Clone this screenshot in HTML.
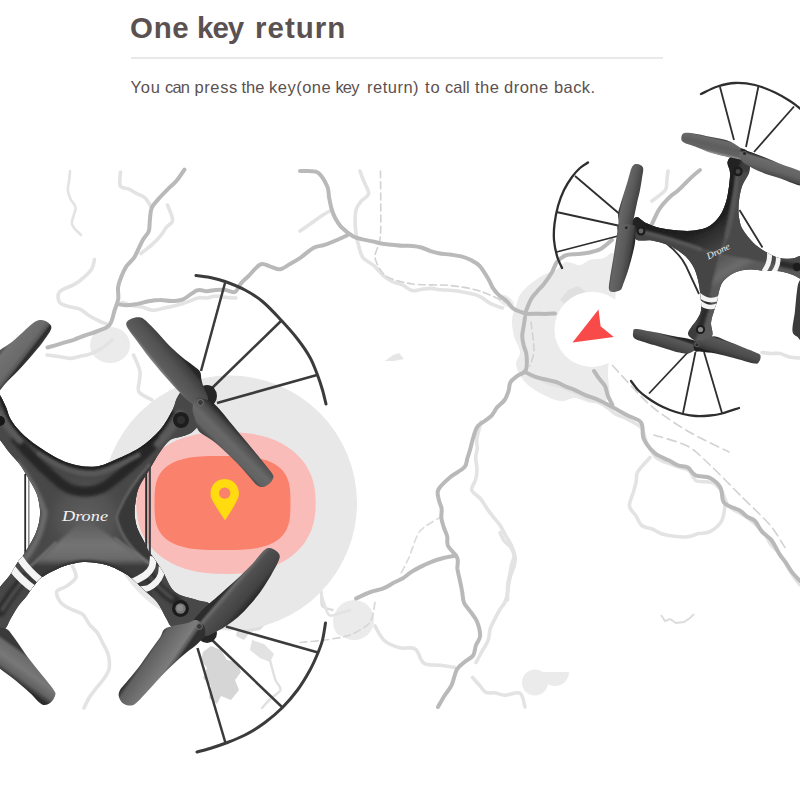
<!DOCTYPE html>
<html><head><meta charset="utf-8">
<style>
html,body{margin:0;padding:0;background:#fff;}
body{width:800px;height:800px;overflow:hidden;position:relative;font-family:"Liberation Sans",sans-serif;}
h1{position:absolute;left:0;top:10px;margin:0;font-size:29.5px;line-height:36px;font-weight:bold;color:#5b5150;white-space:nowrap;}
h1 span{position:absolute;top:0;}
.hr{position:absolute;left:131px;top:57px;width:532px;height:2px;background:#e9e9e9;}
p{position:absolute;left:0;top:76px;margin:0;font-size:16.5px;line-height:22px;color:#5b5150;white-space:nowrap;}
p span{position:absolute;top:0;}
svg{position:absolute;left:0;top:0;}
</style></head><body>
<svg id="art" width="800" height="800" viewBox="0 0 800 800">
<defs>

<clipPath id="d1clip"><path d="M-6.0,388.0 C-4.7,381.8 -2.0,391.8 0.0,395.0 C2.0,398.2 4.2,403.0 6.0,407.0 C7.8,411.0 8.0,414.8 10.5,419.0 C13.0,423.2 16.5,428.0 21.0,432.5 C25.5,437.0 31.0,441.5 37.5,446.0 C44.0,450.5 53.2,456.2 60.0,459.5 C66.8,462.8 72.0,464.3 78.0,465.5 C84.0,466.7 90.2,467.2 96.0,466.5 C101.8,465.8 105.2,464.2 112.5,461.0 C119.8,457.8 132.1,452.7 140.0,447.5 C147.9,442.3 154.6,436.2 160.0,430.0 C165.4,423.8 169.7,415.3 172.5,410.0 C175.3,404.7 175.2,401.2 177.0,398.0 C178.8,394.8 179.8,392.0 183.0,391.0 C186.2,390.0 192.2,390.2 196.0,392.0 C199.8,393.8 204.7,397.7 206.0,402.0 C207.3,406.3 205.4,413.8 204.0,418.0 C202.6,422.2 199.8,424.4 197.5,427.0 C195.2,429.6 192.9,431.8 190.0,433.5 C187.1,435.2 183.3,435.9 180.0,437.0 C176.7,438.1 173.3,437.5 170.0,440.0 C166.7,442.5 163.6,446.8 160.0,452.0 C156.4,457.2 152.0,465.1 148.5,471.0 C145.0,476.9 141.0,482.2 138.8,487.4 C136.6,492.6 136.2,497.4 135.5,502.0 C134.8,506.6 134.4,510.7 134.7,515.0 C135.0,519.3 135.7,523.7 137.2,528.0 C138.7,532.3 141.8,537.2 143.7,541.0 C145.6,544.8 146.9,548.2 148.5,551.0 C150.1,553.8 151.1,554.0 153.5,557.5 C155.9,561.0 159.4,566.2 163.0,572.0 C166.6,577.8 169.3,587.3 175.0,592.0 C180.7,596.7 191.2,598.0 197.0,600.0 C202.8,602.0 207.5,601.3 210.0,604.0 C212.5,606.7 213.7,612.3 212.0,616.0 C210.3,619.7 204.5,623.3 200.0,626.0 C195.5,628.7 189.7,631.8 185.0,632.0 C180.3,632.2 175.2,629.3 172.0,627.0 C168.8,624.7 168.5,622.2 166.0,618.0 C163.5,613.8 160.8,606.8 157.0,602.0 C153.2,597.2 147.2,592.9 143.0,589.0 C138.8,585.1 135.0,581.2 132.0,578.6 C129.0,576.0 128.5,575.4 125.0,573.4 C121.5,571.4 115.7,568.1 111.0,566.4 C106.3,564.6 101.7,563.6 97.0,562.9 C92.3,562.2 87.7,561.7 83.0,562.0 C78.3,562.3 73.7,563.3 69.0,564.6 C64.3,565.9 59.7,567.7 55.0,569.9 C50.3,572.1 44.3,575.4 41.0,577.8 C37.7,580.2 36.8,582.3 35.0,584.5 C33.2,586.7 31.5,588.9 30.0,591.0 C28.5,593.1 28.0,594.4 26.0,597.0 C24.0,599.6 20.6,602.8 18.0,606.5 C15.4,610.2 12.7,615.2 10.5,619.0 C8.3,622.8 7.8,626.0 5.0,629.0 C2.2,632.0 -3.8,641.8 -6.0,637.0 C-8.2,632.2 -9.0,608.3 -8.0,600.0 C-7.0,591.7 -3.0,591.2 0.0,587.0 C3.0,582.8 7.1,579.1 10.0,575.0 C12.9,570.9 15.0,566.2 17.5,562.5 C20.0,558.8 21.9,557.5 25.0,552.5 C28.1,547.5 33.5,538.8 36.0,532.5 C38.5,526.2 39.6,520.4 40.0,515.0 C40.4,509.6 39.3,504.2 38.5,500.0 C37.7,495.8 36.8,493.8 35.0,490.0 C33.2,486.2 30.6,481.8 28.0,477.5 C25.4,473.2 22.7,468.2 19.5,464.0 C16.3,459.8 12.2,456.0 9.0,452.0 C5.8,448.0 2.8,443.3 0.0,440.0 C-2.8,436.7 -7.0,440.7 -8.0,432.0 C-9.0,423.3 -7.3,394.2 -6.0,388.0Z"/></clipPath>
<filter id="b3" x="-20%" y="-20%" width="140%" height="140%"><feGaussianBlur stdDeviation="3"/></filter>
<filter id="b2" x="-20%" y="-20%" width="140%" height="140%"><feGaussianBlur stdDeviation="1.6"/></filter>
<filter id="b1" x="-20%" y="-20%" width="140%" height="140%"><feGaussianBlur stdDeviation="0.8"/></filter>

<linearGradient id="fB" gradientUnits="userSpaceOnUse" x1="85" y1="520" x2="85" y2="566"><stop offset="0" stop-color="#5a5a5a"/><stop offset="0.55" stop-color="#747474"/><stop offset="0.85" stop-color="#6a6a6a"/><stop offset="1" stop-color="#3a3a3a"/></linearGradient>
<radialGradient id="plate" gradientUnits="userSpaceOnUse" cx="86" cy="518" r="46"><stop offset="0" stop-color="#5e5e5e"/><stop offset="0.6" stop-color="#525252"/><stop offset="1" stop-color="#484848" stop-opacity="0"/></radialGradient>
<linearGradient id="g1u" gradientUnits="userSpaceOnUse" x1="150.0" y1="362.0" x2="172.0" y2="344.0"><stop offset="0" stop-color="#2b2b2b"/><stop offset="0.08" stop-color="#858585"/><stop offset="0.2" stop-color="#5e5e5e"/><stop offset="0.6" stop-color="#525252"/><stop offset="0.9" stop-color="#3e3e3e"/><stop offset="1" stop-color="#262626"/></linearGradient>
<linearGradient id="g1l" gradientUnits="userSpaceOnUse" x1="214.0" y1="444.0" x2="234.0" y2="424.0"><stop offset="0" stop-color="#444"/><stop offset="0.15" stop-color="#626262"/><stop offset="0.45" stop-color="#686868"/><stop offset="0.75" stop-color="#4e4e4e"/><stop offset="0.92" stop-color="#303030"/><stop offset="1" stop-color="#242424"/></linearGradient>
<linearGradient id="g3u" gradientUnits="userSpaceOnUse" x1="239.0" y1="575.0" x2="261.0" y2="594.0"><stop offset="0" stop-color="#2c2c2c"/><stop offset="0.1" stop-color="#6a6a6a"/><stop offset="0.25" stop-color="#505050"/><stop offset="0.7" stop-color="#434343"/><stop offset="1" stop-color="#222"/></linearGradient>
<linearGradient id="g3l" gradientUnits="userSpaceOnUse" x1="149.0" y1="650.0" x2="174.0" y2="667.0"><stop offset="0" stop-color="#363636"/><stop offset="0.12" stop-color="#606060"/><stop offset="0.5" stop-color="#707070"/><stop offset="0.8" stop-color="#7c7c7c"/><stop offset="0.93" stop-color="#555"/><stop offset="1" stop-color="#303030"/></linearGradient>
<linearGradient id="g2" gradientUnits="userSpaceOnUse" x1="16.0" y1="332.0" x2="38.0" y2="349.0"><stop offset="0" stop-color="#585858"/><stop offset="0.1" stop-color="#727272"/><stop offset="0.62" stop-color="#6a6a6a"/><stop offset="0.76" stop-color="#585858"/><stop offset="0.85" stop-color="#2d2d2d"/><stop offset="0.94" stop-color="#333"/><stop offset="1" stop-color="#484848"/></linearGradient>
<linearGradient id="g4" gradientUnits="userSpaceOnUse" x1="30.0" y1="656.0" x2="13.0" y2="680.0"><stop offset="0" stop-color="#3a3a3a"/><stop offset="0.12" stop-color="#6a6a6a"/><stop offset="0.5" stop-color="#787878"/><stop offset="0.8" stop-color="#626262"/><stop offset="1" stop-color="#2c2c2c"/></linearGradient>

<clipPath id="d2clip"><path d="M632.0,222.0 C633.0,219.5 634.7,216.8 637.0,217.0 C639.3,217.2 642.2,221.2 646.0,223.0 C649.8,224.8 654.7,226.8 660.0,228.0 C665.3,229.2 672.2,230.1 678.0,230.5 C683.8,230.9 689.2,231.2 694.5,230.5 C699.8,229.8 705.2,228.5 709.5,226.0 C713.8,223.5 717.2,219.5 720.0,215.5 C722.8,211.5 724.5,206.8 726.0,202.0 C727.5,197.2 728.3,191.4 729.0,186.5 C729.7,181.6 730.2,176.6 730.0,172.5 C729.8,168.4 727.0,164.8 727.5,162.0 C728.0,159.2 730.2,156.8 733.0,156.0 C735.8,155.2 741.2,155.7 744.0,157.0 C746.8,158.3 748.7,161.3 749.5,164.0 C750.3,166.7 750.2,169.5 749.0,173.0 C747.8,176.5 744.1,181.0 742.5,185.0 C740.9,189.0 740.2,192.8 739.5,197.0 C738.8,201.2 738.5,206.2 738.5,210.0 C738.5,213.8 738.8,216.8 739.5,220.0 C740.2,223.2 740.2,225.2 742.5,229.0 C744.8,232.8 749.2,238.8 753.0,242.5 C756.8,246.2 760.7,248.9 765.0,251.5 C769.3,254.1 774.5,256.8 779.0,258.0 C783.5,259.2 788.0,258.7 792.0,258.5 C796.0,258.3 801.2,253.8 803.0,257.0 C804.8,260.2 804.7,275.0 803.0,278.0 C801.3,281.0 796.7,276.1 793.0,275.0 C789.3,273.9 785.7,272.2 781.0,271.5 C776.3,270.8 770.2,271.3 765.0,271.0 C759.8,270.7 755.0,269.2 750.0,269.5 C745.0,269.8 739.5,270.5 735.0,272.5 C730.5,274.5 725.8,278.0 723.0,281.5 C720.2,285.0 719.4,290.4 718.5,293.5 C717.6,296.6 718.2,297.1 717.5,300.0 C716.8,302.9 715.1,307.2 714.0,311.0 C712.9,314.8 711.3,318.8 711.0,323.0 C710.7,327.2 713.8,332.8 712.0,336.0 C710.2,339.2 704.0,342.3 700.0,342.0 C696.0,341.7 688.5,337.8 688.0,334.0 C687.5,330.2 694.8,323.4 697.0,319.5 C699.2,315.6 700.4,314.4 701.0,310.5 C701.6,306.6 701.0,301.1 700.5,296.0 C700.0,290.9 699.1,284.7 698.0,280.0 C696.9,275.3 695.7,271.5 694.0,268.0 C692.3,264.5 690.3,261.7 688.0,259.0 C685.7,256.3 683.2,254.2 680.0,252.0 C676.8,249.8 673.7,247.4 669.0,245.5 C664.3,243.6 657.3,241.4 652.0,240.5 C646.7,239.6 640.5,241.4 637.0,240.0 C633.5,238.6 631.8,235.0 631.0,232.0 C630.2,229.0 631.0,224.5 632.0,222.0Z"/></clipPath>
<linearGradient id="hT" gradientUnits="userSpaceOnUse" x1="704" y1="228" x2="720" y2="255"><stop offset="0" stop-color="#242424"/><stop offset="0.4" stop-color="#333"/><stop offset="1" stop-color="#4a4a4a"/></linearGradient>
<linearGradient id="hB" gradientUnits="userSpaceOnUse" x1="720" y1="255" x2="733" y2="277"><stop offset="0" stop-color="#525252"/><stop offset="0.7" stop-color="#6c6c6c"/><stop offset="1" stop-color="#5a5a5a"/></linearGradient>
<linearGradient id="k1u" gradientUnits="userSpaceOnUse" x1="620.0" y1="204.0" x2="638.0" y2="208.0"><stop offset="0" stop-color="#2c2c2c"/><stop offset="0.12" stop-color="#686868"/><stop offset="0.5" stop-color="#5a5a5a"/><stop offset="0.85" stop-color="#444"/><stop offset="1" stop-color="#202020"/></linearGradient>
<linearGradient id="k1l" gradientUnits="userSpaceOnUse" x1="612.0" y1="256.0" x2="632.0" y2="259.0"><stop offset="0" stop-color="#303030"/><stop offset="0.15" stop-color="#666"/><stop offset="0.55" stop-color="#5a5a5a"/><stop offset="0.85" stop-color="#444"/><stop offset="1" stop-color="#222"/></linearGradient>
<linearGradient id="k2u" gradientUnits="userSpaceOnUse" x1="712.0" y1="136.0" x2="708.0" y2="153.0"><stop offset="0" stop-color="#262626"/><stop offset="0.15" stop-color="#6a6a6a"/><stop offset="0.5" stop-color="#5e5e5e"/><stop offset="0.8" stop-color="#646464"/><stop offset="0.92" stop-color="#8c8c8c"/><stop offset="1" stop-color="#2a2a2a"/></linearGradient>
<linearGradient id="k2l" gradientUnits="userSpaceOnUse" x1="772.0" y1="159.0" x2="767.0" y2="176.0"><stop offset="0" stop-color="#262626"/><stop offset="0.15" stop-color="#6c6c6c"/><stop offset="0.6" stop-color="#626262"/><stop offset="0.9" stop-color="#4a4a4a"/><stop offset="1" stop-color="#202020"/></linearGradient>
<linearGradient id="k3u" gradientUnits="userSpaceOnUse" x1="663.0" y1="333.0" x2="658.0" y2="348.0"><stop offset="0" stop-color="#262626"/><stop offset="0.15" stop-color="#5a5a5a"/><stop offset="0.6" stop-color="#4a4a4a"/><stop offset="0.88" stop-color="#3a3a3a"/><stop offset="1" stop-color="#1e1e1e"/></linearGradient>
<linearGradient id="k3l" gradientUnits="userSpaceOnUse" x1="734.0" y1="342.0" x2="729.0" y2="358.0"><stop offset="0" stop-color="#262626"/><stop offset="0.15" stop-color="#585858"/><stop offset="0.6" stop-color="#4c4c4c"/><stop offset="0.9" stop-color="#383838"/><stop offset="1" stop-color="#1e1e1e"/></linearGradient>

</defs>
<g id="map"><ellipse cx="110" cy="345" rx="20" ry="18" fill="#ebebeb"/>
<path d="M516.0,306.0 C517.7,301.3 518.0,296.8 522.0,292.0 C526.0,287.2 534.3,280.7 540.0,277.0 C545.7,273.3 551.7,272.5 556.0,270.0 C560.3,267.5 562.0,262.8 566.0,262.0 C570.0,261.2 576.0,265.3 580.0,265.0 C584.0,264.7 586.0,261.2 590.0,260.0 C594.0,258.8 600.2,259.2 604.0,258.0 C607.8,256.8 610.8,251.3 613.0,253.0 C615.2,254.7 616.5,261.8 617.0,268.0 C617.5,274.2 616.8,279.7 616.0,290.0 C615.2,300.3 613.3,316.3 612.0,330.0 C610.7,343.7 608.5,360.7 608.0,372.0 C607.5,383.3 611.7,392.8 609.0,398.0 C606.3,403.2 597.7,403.0 592.0,403.0 C586.3,403.0 580.3,398.3 575.0,398.0 C569.7,397.7 565.8,401.8 560.0,401.0 C554.2,400.2 546.0,396.3 540.0,393.0 C534.0,389.7 528.0,385.7 524.0,381.0 C520.0,376.3 516.7,369.8 516.0,365.0 C515.3,360.2 520.3,356.8 520.0,352.0 C519.7,347.2 515.3,341.3 514.0,336.0 C512.7,330.7 511.7,325.0 512.0,320.0 C512.3,315.0 514.3,310.7 516.0,306.0Z" fill="#ebebeb"/>
<ellipse cx="506" cy="301" rx="9" ry="5" fill="#ececec" transform="rotate(35 506 301)"/>
<path d="M560,300 l8,-10 l10,-4 l8,6 l-4,12 l-12,4z" fill="#e0e0e0"/>
<ellipse cx="354" cy="620" rx="20" ry="20" fill="#ebebeb"/><ellipse cx="342" cy="622" rx="9" ry="14" fill="#ebebeb"/>
<circle cx="535" cy="682.5" r="13" fill="#ebebeb"/><path d="M541,672 A14,14 0 0 0 569,672Z" fill="#ebebeb"/>
<path d="M203,652 l8,-6 l10,4 l6,10 l10,2 l4,10 l-6,8 l4,10 l-8,10 l-10,-4 l-4,8 l-8,-6 l2,-12 l-8,-8 l4,-10 l-6,-8z" fill="#d6d6d6"/>
<path d="M236,612 l10,-4 l8,6 l10,-2 l4,10 l-8,8 l-10,2 l-6,8 l-8,-4 l2,-10 l-6,-6z" fill="#dedede"/>
<path d="M252,640 l12,4 l10,10 l-4,8 l-10,-4 l-10,-8z" fill="#e2e2e2"/>
<path d="M70.0,171.0 C69.9,172.6 69.5,177.3 69.1,180.5 C68.8,183.7 67.6,186.8 67.8,190.0 C68.1,193.1 69.4,196.4 70.7,199.4 C72.0,202.4 75.4,203.9 75.6,208.0 C75.8,212.1 71.1,219.5 72.0,224.0 C72.9,228.5 79.5,233.2 81.0,235.0" fill="none" stroke="#e3e3e3" stroke-width="2.6" stroke-linejoin="round" stroke-linecap="round" />
<path d="M120.5,172.0 C120.5,174.3 118.9,183.2 120.3,186.0 C121.7,188.8 126.3,187.8 129.0,189.1 C131.8,190.4 134.2,192.2 136.8,193.7 C139.5,195.1 142.3,195.4 144.9,197.8 C147.4,200.2 150.8,206.3 152.0,208.0" fill="none" stroke="#e3e3e3" stroke-width="3.6" stroke-linejoin="round" stroke-linecap="round" />
<path d="M94.5,259.5 C94.0,261.1 93.5,265.9 91.8,268.8 C90.0,271.8 86.8,274.7 83.9,277.3 C81.0,279.9 78.4,282.0 74.3,284.4 C70.2,286.8 61.9,288.9 59.5,292.0 C57.0,295.0 58.0,300.1 59.7,302.6 C61.4,305.1 66.4,305.7 69.8,306.8 C73.2,307.9 76.8,307.7 79.9,309.1 C83.1,310.5 85.5,313.2 88.5,315.2 C91.6,317.1 95.0,318.9 98.4,320.6 C101.8,322.2 107.2,324.3 109.0,325.0" fill="none" stroke="#e3e3e3" stroke-width="3.6" stroke-linejoin="round" stroke-linecap="round" />
<path d="M167.5,205.0 C168.4,207.5 172.8,216.4 172.6,220.1 C172.4,223.9 168.3,224.7 166.3,227.3 C164.3,229.9 163.2,232.6 160.7,235.6 C158.2,238.6 154.7,242.2 151.4,245.2 C148.1,248.1 142.7,252.1 141.0,253.5" fill="none" stroke="#e3e3e3" stroke-width="3.6" stroke-linejoin="round" stroke-linecap="round" />
<path d="M122.0,302.5 C123.7,303.0 128.6,304.6 132.0,305.4 C135.4,306.2 138.9,306.3 142.3,307.1 C145.7,307.9 148.7,310.0 152.2,310.2 C155.7,310.4 159.6,309.1 163.4,308.3 C167.1,307.6 170.9,306.8 174.8,305.8 C178.6,304.8 182.6,303.7 186.5,302.4 C190.3,301.1 194.5,298.6 197.9,297.9 C201.4,297.1 204.1,298.2 207.1,297.9 C210.1,297.6 212.9,296.1 216.0,296.0 C219.1,296.0 222.6,297.0 226.0,297.4 C229.3,297.7 234.3,297.9 236.0,298.0" fill="none" stroke="#e3e3e3" stroke-width="3.6" stroke-linejoin="round" stroke-linecap="round" />
<path d="M47.0,355.0 C48.9,355.2 54.7,355.9 58.5,356.5 C62.3,357.1 66.4,358.4 69.9,358.4 C73.4,358.4 76.3,357.1 79.5,356.4 C82.6,355.7 85.4,355.6 88.9,354.4 C92.4,353.2 96.8,351.5 100.7,349.1 C104.5,346.7 110.1,341.5 112.0,340.0" fill="none" stroke="#e3e3e3" stroke-width="3.6" stroke-linejoin="round" stroke-linecap="round" />
<path d="M133.5,355.0 C134.6,357.6 138.9,366.3 139.8,370.6 C140.8,374.9 139.5,377.4 139.4,380.9 C139.2,384.5 136.9,388.8 139.0,392.0 C141.1,395.1 149.8,398.7 152.0,400.0" fill="none" stroke="#e3e3e3" stroke-width="3.6" stroke-linejoin="round" stroke-linecap="round" />
<path d="M300.0,231.0 C301.8,229.8 307.1,226.2 310.7,223.6 C314.4,221.0 318.6,217.7 322.1,215.4 C325.6,213.2 330.3,210.9 332.0,210.0" fill="none" stroke="#e3e3e3" stroke-width="3.6" stroke-linejoin="round" stroke-linecap="round" />
<path d="M360.0,171.0 C360.7,172.9 362.8,178.6 364.3,182.3 C365.7,186.1 369.1,190.5 368.6,193.7 C368.1,196.8 363.3,198.5 361.2,201.1 C359.1,203.7 357.2,205.7 356.2,209.2 C355.2,212.6 355.1,217.7 355.1,222.0 C355.1,226.3 355.7,230.9 356.3,235.0 C356.9,239.1 357.7,242.8 358.9,246.6 C360.0,250.4 360.6,254.6 363.1,257.8 C365.7,261.0 370.9,262.9 374.2,265.8 C377.5,268.8 380.1,272.9 383.0,275.5 C386.0,278.1 388.8,279.9 392.1,281.5 C395.3,283.0 399.2,283.4 402.5,284.9 C405.9,286.5 408.8,289.9 412.0,290.6 C415.2,291.4 418.7,289.6 421.9,289.2 C425.1,288.9 428.1,288.3 431.2,288.4 C434.4,288.5 437.5,289.5 440.6,289.8 C443.8,290.1 446.7,290.0 450.0,290.2 C453.3,290.5 456.8,290.9 460.1,291.4 C463.5,292.0 466.9,292.6 470.3,293.5 C473.6,294.3 476.7,294.9 480.1,296.6 C483.5,298.3 487.0,301.7 490.7,303.6 C494.5,305.5 500.5,307.3 502.5,308.0" fill="none" stroke="#e3e3e3" stroke-width="3.6" stroke-linejoin="round" stroke-linecap="round" />
<path d="M481.0,422.0 C480.3,424.8 477.5,434.5 476.8,438.9 C476.2,443.3 477.4,445.3 477.2,448.4 C477.0,451.5 475.7,454.0 475.7,457.6 C475.6,461.2 477.1,466.1 477.0,469.9 C477.0,473.7 476.3,476.9 475.4,480.2 C474.5,483.5 470.9,486.7 471.7,489.9 C472.6,493.0 478.1,495.8 480.7,499.0 C483.3,502.2 485.2,506.0 487.4,509.1 C489.6,512.2 491.6,514.8 493.8,517.6 C496.0,520.4 498.5,522.9 500.5,525.9 C502.4,528.8 503.7,532.0 505.5,535.3 C507.4,538.7 510.0,542.2 511.6,545.9 C513.2,549.6 514.8,554.2 515.2,557.6 C515.5,561.1 514.7,563.7 514.0,566.6 C513.2,569.5 511.6,572.3 510.7,575.2 C509.8,578.2 509.2,581.2 508.7,584.2 C508.2,587.2 508.3,590.3 507.6,593.3 C506.9,596.3 506.1,599.7 504.8,602.4 C503.5,605.1 501.4,607.0 499.9,609.5 C498.3,612.1 497.0,614.7 495.4,617.8 C493.8,621.0 491.5,624.7 490.3,628.4 C489.1,632.2 489.6,636.4 488.2,640.2 C486.8,644.1 484.0,647.7 482.0,651.4 C480.0,655.1 477.0,660.6 476.0,662.5" fill="none" stroke="#e3e3e3" stroke-width="3.6" stroke-linejoin="round" stroke-linecap="round" />
<path d="M375.0,626.0 C376.5,628.4 380.1,636.9 384.3,640.5 C388.4,644.2 394.7,646.4 399.8,647.8 C405.0,649.2 411.1,646.4 415.2,649.0 C419.2,651.6 419.8,660.6 424.0,663.3 C428.2,666.0 435.0,664.6 440.2,665.3 C445.3,666.0 452.5,667.1 455.0,667.5" fill="none" stroke="#e3e3e3" stroke-width="3.6" stroke-linejoin="round" stroke-linecap="round" />
<path d="M332.5,610.0 C330.8,609.3 324.2,608.9 322.2,605.6 C320.3,602.2 322.8,594.5 320.7,589.9 C318.6,585.3 313.1,581.9 309.7,577.8 C306.2,573.6 301.6,567.1 300.0,565.0" fill="none" stroke="#dedede" stroke-width="2.6" stroke-linejoin="round" stroke-linecap="round" />
<path d="M375.0,602.5 C374.3,605.2 373.3,618.2 370.0,622.5 C366.7,626.8 356.0,632.7 350.0,635.0 C344.0,637.3 331.7,639.0 325.0,640.0 C318.3,641.0 303.3,642.2 300.0,642.5" fill="none" stroke="#d6d6d6" stroke-width="1.6" stroke-linejoin="round" stroke-linecap="round" stroke-dasharray="7 4"/>
<path d="M472.5,677.5 C473.6,678.7 476.9,682.5 479.2,684.9 C481.4,687.4 483.2,691.0 485.9,692.3 C488.5,693.6 491.9,692.5 495.1,692.9 C498.3,693.4 500.8,695.1 505.0,695.2 C509.1,695.3 516.6,691.4 520.0,693.3 C523.3,695.3 524.2,704.7 525.0,707.0" fill="none" stroke="#e3e3e3" stroke-width="3.6" stroke-linejoin="round" stroke-linecap="round" />
<path d="M650.0,457.5 C648.9,458.7 645.4,462.3 643.3,464.8 C641.2,467.4 638.4,469.9 637.3,472.7 C636.1,475.5 636.7,478.7 636.1,481.8 C635.5,484.8 634.9,486.8 633.8,490.9 C632.7,494.9 629.2,501.9 629.5,506.0 C629.9,510.1 633.8,512.4 635.8,515.6 C637.9,518.9 639.0,523.3 641.7,525.5 C644.4,527.8 648.8,527.7 652.1,529.0 C655.4,530.4 657.7,532.5 661.4,533.7 C665.1,534.9 669.8,535.8 674.2,536.3 C678.5,536.8 683.4,537.3 687.5,536.8 C691.5,536.4 694.9,534.5 698.6,533.6 C702.4,532.8 706.1,533.7 709.9,531.7 C713.7,529.7 718.9,525.7 721.4,521.4 C724.0,517.1 724.4,508.6 725.0,506.0" fill="none" stroke="#e3e3e3" stroke-width="3.6" stroke-linejoin="round" stroke-linecap="round" />
<path d="M500.0,532.5 C500.7,533.9 502.3,538.2 504.0,540.6 C505.8,543.1 509.0,544.6 510.7,547.1 C512.3,549.6 513.9,552.7 514.0,555.6 C514.2,558.6 512.3,561.5 511.5,564.8 C510.8,568.0 510.4,571.6 509.7,574.9 C509.1,578.3 508.1,580.9 507.7,585.0 C507.3,589.2 507.5,597.5 507.5,600.0" fill="none" stroke="#e3e3e3" stroke-width="3.6" stroke-linejoin="round" stroke-linecap="round" />
<path d="M72.5,566.0 C73.1,567.9 76.9,574.0 76.0,577.3 C75.1,580.6 70.2,583.5 67.0,585.9 C63.8,588.3 57.8,588.8 56.7,591.6 C55.7,594.3 58.3,599.4 60.7,602.3 C63.0,605.3 67.3,607.2 71.0,609.2 C74.7,611.2 79.7,611.9 82.8,614.4 C85.9,617.0 86.9,621.3 89.4,624.3 C91.8,627.3 95.0,629.5 97.3,632.7 C99.6,635.9 101.2,639.9 103.0,643.5 C104.8,647.2 107.2,650.6 108.3,654.7 C109.3,658.7 109.8,664.1 109.4,667.6 C109.0,671.1 107.4,673.1 105.9,675.6 C104.5,678.2 102.4,680.5 100.6,682.9 C98.7,685.3 96.8,687.3 94.9,689.9 C92.9,692.5 90.5,695.5 88.7,698.5 C86.9,701.5 84.8,706.4 84.0,708.0" fill="none" stroke="#e3e3e3" stroke-width="3.6" stroke-linejoin="round" stroke-linecap="round" />
<path d="M762.0,352.5 C763.5,352.7 768.0,353.4 771.0,353.5 C774.0,353.7 776.9,352.8 780.0,353.4 C783.2,354.0 786.5,356.3 789.8,357.1 C793.1,357.8 798.3,357.8 800.0,358.0" fill="none" stroke="#e3e3e3" stroke-width="3.6" stroke-linejoin="round" stroke-linecap="round" />
<path d="M668.0,171.0 C667.8,172.6 667.2,177.4 666.8,180.7 C666.3,183.9 667.7,186.9 665.2,190.3 C662.8,193.6 654.2,199.2 652.0,201.0" fill="none" stroke="#e3e3e3" stroke-width="3.6" stroke-linejoin="round" stroke-linecap="round" />
<path d="M530.0,376.0 C531.7,376.6 536.9,378.1 540.2,379.4 C543.6,380.8 546.8,382.7 550.1,383.9 C553.3,385.0 556.6,385.3 559.7,386.3 C562.9,387.3 565.9,388.6 568.9,389.9 C572.0,391.1 574.8,392.1 578.1,393.7 C581.4,395.2 585.2,397.6 588.9,399.2 C592.6,400.7 597.2,401.6 600.4,403.1 C603.6,404.6 605.7,406.4 608.2,408.2 C610.7,410.0 611.9,411.9 615.5,413.9 C619.1,415.9 625.1,417.7 629.5,420.1 C633.9,422.6 638.9,424.7 641.8,428.3 C644.6,432.0 644.2,437.4 646.5,442.2 C648.9,447.0 651.8,453.4 655.8,457.1 C659.8,460.8 666.4,462.5 670.5,464.2 C674.5,465.9 676.8,466.3 679.9,467.4 C683.1,468.5 686.7,468.6 689.4,470.8 C692.2,473.1 692.5,478.8 696.2,480.8 C700.0,482.7 707.6,480.7 711.9,482.5 C716.3,484.4 719.5,488.1 722.2,491.9 C725.0,495.8 724.9,501.9 728.2,505.7 C731.5,509.4 738.3,512.0 741.8,514.3 C745.4,516.6 747.1,517.6 749.5,519.5 C752.0,521.3 754.1,523.0 756.6,525.5 C759.2,527.9 762.5,531.0 764.9,534.2 C767.3,537.4 768.4,541.4 771.0,544.8 C773.6,548.2 777.8,550.8 780.4,554.4 C783.1,557.9 784.8,562.5 786.9,566.1 C789.0,569.6 790.8,572.7 793.0,575.8 C795.2,579.0 798.8,583.5 800.0,585.0" fill="none" stroke="#e3e3e3" stroke-width="3.5" stroke-linejoin="round" stroke-linecap="round" />
<path d="M320.0,590.0 C320.7,592.1 322.5,598.7 324.0,602.9 C325.6,607.1 326.7,613.5 329.4,615.2 C332.1,616.9 336.7,613.9 340.1,613.0 C343.6,612.1 348.4,610.5 350.0,610.0" fill="none" stroke="#e3e3e3" stroke-width="2.6" stroke-linejoin="round" stroke-linecap="round" />
<path d="M270.0,660.0 C270.4,661.7 271.7,666.9 272.6,670.2 C273.6,673.6 274.4,677.1 275.6,680.3 C276.9,683.6 281.2,686.8 280.4,689.9 C279.5,692.9 273.7,695.6 270.7,698.7 C267.6,701.7 263.4,706.4 262.0,708.0" fill="none" stroke="#e0e0e0" stroke-width="2.4" stroke-linejoin="round" stroke-linecap="round" />
<path d="M165.0,575.0 C166.4,575.8 170.5,578.3 173.3,579.7 C176.2,581.1 179.1,582.3 182.1,583.4 C185.1,584.4 188.4,584.8 191.3,586.1 C194.3,587.3 196.6,589.5 199.7,590.7 C202.8,591.9 206.4,592.7 209.8,593.4 C213.1,594.2 216.6,594.5 220.0,595.2 C223.3,595.9 226.6,597.1 229.9,597.8 C233.3,598.6 236.7,598.6 240.1,599.7 C243.4,600.8 246.6,602.8 249.9,604.2 C253.2,605.6 256.5,607.0 259.9,608.3 C263.2,609.6 268.3,611.4 270.0,612.0" fill="none" stroke="#dcdcdc" stroke-width="2.2" stroke-linejoin="round" stroke-linecap="round" />
<path d="M380.5,171.0 C380.5,179.5 381.2,223.5 380.5,235.0 C379.8,246.5 374.3,252.0 375.0,257.5 C375.7,263.0 381.0,272.5 386.0,276.0 C391.0,279.5 404.0,282.7 412.5,284.0 C421.0,285.3 441.0,284.6 450.0,285.5 C459.0,286.4 472.0,288.5 480.0,291.0 C488.0,293.5 506.0,302.7 510.0,304.5" fill="none" stroke="#d2d2d2" stroke-width="1.6" stroke-linejoin="round" stroke-linecap="round" stroke-dasharray="7 4"/>
<path d="M612.5,365.5 C617.5,370.8 640.0,396.3 650.0,405.0 C660.0,413.7 677.0,424.7 687.5,431.0 C698.0,437.3 723.5,449.2 729.0,452.0" fill="none" stroke="#d2d2d2" stroke-width="1.6" stroke-linejoin="round" stroke-linecap="round" stroke-dasharray="9 5"/>
<path d="M654.0,435.0 C658.5,436.5 680.0,442.0 687.5,446.0 C695.0,450.0 703.0,458.5 710.0,465.0 C717.0,471.5 732.0,487.0 740.0,495.0 C748.0,503.0 764.0,518.0 770.0,525.0 C776.0,532.0 783.0,544.5 785.0,547.5" fill="none" stroke="#d2d2d2" stroke-width="1.6" stroke-linejoin="round" stroke-linecap="round" stroke-dasharray="9 5"/>
<path d="M442.5,516.0 C439.5,518.0 424.5,525.5 420.0,531.0 C415.5,536.5 411.7,551.5 409.0,557.5 C406.3,563.5 400.8,573.5 399.5,576.0" fill="none" stroke="#dadada" stroke-width="1.6" stroke-linejoin="round" stroke-linecap="round" stroke-dasharray="7 4"/>
<path d="M531.0,322.0 C531.4,325.7 534.1,344.1 534.0,350.0 C533.9,355.9 530.5,363.9 530.0,366.0" fill="none" stroke="#d2d2d2" stroke-width="1.6" stroke-linejoin="round" stroke-linecap="round" stroke-dasharray="7 4"/>
<path d="M184.5,169.5 C183.2,171.3 179.7,177.1 176.8,180.4 C174.0,183.8 170.2,186.8 167.2,189.8 C164.2,192.8 161.6,195.4 159.0,198.4 C156.4,201.5 153.2,204.3 151.7,207.9 C150.2,211.4 150.4,215.8 149.9,219.6 C149.4,223.5 149.9,227.7 148.8,231.1 C147.7,234.4 144.8,236.6 143.1,239.5 C141.4,242.5 140.1,245.6 138.6,248.6 C137.1,251.6 136.2,254.6 134.1,257.6 C132.1,260.5 128.7,263.1 126.5,266.2 C124.4,269.4 122.8,273.1 121.4,276.6 C120.0,280.2 118.6,283.6 118.1,287.4 C117.6,291.2 118.8,295.4 118.2,299.2 C117.6,302.9 116.2,305.6 114.7,310.0 C113.3,314.3 112.4,321.5 109.5,325.0 C106.7,328.5 101.7,329.4 97.5,331.1 C93.4,332.9 88.8,334.1 84.8,335.5 C80.8,337.0 77.5,338.5 73.8,339.8 C70.0,341.0 66.8,341.9 62.4,343.2 C58.0,344.5 50.0,346.8 47.5,347.5" fill="none" stroke="#b9b9b9" stroke-width="4.0" stroke-linejoin="round" stroke-linecap="round" />
<path d="M117.0,304.0 C118.7,304.2 123.8,305.4 127.2,305.3 C130.6,305.3 134.0,304.5 137.5,303.9 C141.1,303.2 144.8,301.9 148.5,301.2 C152.3,300.6 156.1,300.0 159.9,300.0 C163.7,299.9 167.5,301.0 171.2,301.0 C175.0,300.9 178.2,301.5 182.5,299.7 C186.8,297.9 193.0,291.7 197.0,290.3 C201.1,288.9 203.7,291.4 206.8,291.3 C210.0,291.2 212.9,290.1 216.0,289.9 C219.1,289.7 222.4,289.7 225.5,290.1 C228.7,290.4 232.3,293.2 234.9,292.0 C237.5,290.9 238.9,285.8 241.2,283.2 C243.4,280.6 245.1,279.4 248.3,276.3 C251.5,273.1 256.8,266.0 260.5,264.4 C264.2,262.8 267.3,265.8 270.5,266.6 C273.8,267.4 276.6,269.7 279.9,269.3 C283.1,268.8 286.8,265.8 290.0,263.9 C293.3,262.1 295.5,261.1 299.5,258.4 C303.5,255.7 309.8,249.9 313.8,247.7 C317.9,245.6 320.6,246.2 323.8,245.2 C327.1,244.2 329.5,243.2 333.4,241.5 C337.2,239.9 344.7,236.5 347.0,235.5" fill="none" stroke="#b9b9b9" stroke-width="4.0" stroke-linejoin="round" stroke-linecap="round" />
<path d="M300.0,171.0 C301.6,171.0 306.3,170.7 309.4,171.1 C312.4,171.4 315.5,170.4 318.5,173.0 C321.5,175.6 325.5,182.4 327.3,186.5 C329.1,190.6 328.4,193.7 329.1,197.4 C329.8,201.1 330.4,205.1 331.5,208.6 C332.5,212.1 333.8,215.4 335.4,218.5 C337.1,221.6 338.6,224.3 341.5,227.3 C344.5,230.2 349.5,234.3 353.0,236.3 C356.5,238.4 359.3,238.5 362.5,239.4 C365.8,240.2 369.3,240.7 372.6,241.4 C376.0,242.2 379.4,243.2 382.7,243.8 C386.0,244.3 389.2,244.4 392.5,244.8 C395.8,245.1 399.2,245.6 402.5,245.8 C405.8,246.0 409.3,245.7 412.5,246.0 C415.7,246.3 418.5,246.7 421.4,247.5 C424.4,248.3 427.1,249.9 430.0,250.9 C432.9,251.8 435.4,252.6 438.7,253.2 C442.1,253.9 446.3,254.1 450.0,254.6 C453.8,255.2 457.8,255.5 461.3,256.4 C464.8,257.3 467.9,258.5 470.9,260.1 C474.0,261.7 476.7,262.7 479.6,265.9 C482.6,269.1 486.4,275.8 488.6,279.5 C490.8,283.1 491.1,285.2 492.8,287.8 C494.5,290.4 496.5,292.9 498.9,295.1 C501.2,297.3 504.4,298.9 506.8,301.1 C509.3,303.4 510.5,306.5 513.5,308.6 C516.5,310.6 523.1,312.7 525.0,313.5" fill="none" stroke="#b9b9b9" stroke-width="4.0" stroke-linejoin="round" stroke-linecap="round" />
<path d="M525.0,313.5 C526.0,311.2 528.8,303.1 530.9,299.4 C532.9,295.7 535.1,294.0 537.2,291.4 C539.4,288.8 541.4,287.1 543.9,283.9 C546.4,280.7 549.9,275.8 552.0,272.2 C554.2,268.6 554.6,265.0 556.8,262.2 C559.1,259.4 562.3,256.8 565.6,255.4 C569.0,254.1 573.2,254.5 576.9,254.1 C580.6,253.6 584.0,253.6 587.9,252.8 C591.8,252.0 596.1,251.4 600.1,249.3 C604.1,247.2 610.0,241.6 612.0,240.0" fill="none" stroke="#b9b9b9" stroke-width="4.0" stroke-linejoin="round" stroke-linecap="round" />
<path d="M525.0,314.0 C526.7,313.9 531.7,313.7 535.0,313.7 C538.3,313.7 541.7,314.0 545.0,314.0 C548.3,314.0 553.3,313.6 555.0,313.5" fill="none" stroke="#b9b9b9" stroke-width="4.0" stroke-linejoin="round" stroke-linecap="round" />
<path d="M525.0,317.5 C524.8,319.0 524.1,323.6 523.6,326.7 C523.1,329.8 522.2,332.7 522.2,335.9 C522.2,339.1 523.1,342.5 523.8,345.7 C524.6,348.9 526.2,351.0 526.5,355.1 C526.9,359.2 527.3,366.7 525.8,370.1 C524.3,373.6 520.1,373.8 517.5,375.8 C515.0,377.8 512.0,379.6 510.5,382.2 C509.0,384.7 509.5,388.1 508.5,391.1 C507.5,394.1 506.4,397.4 504.6,400.0 C502.7,402.7 499.5,404.5 497.3,407.1 C495.2,409.7 493.8,413.2 491.6,415.6 C489.5,417.9 486.8,419.3 484.4,421.2 C482.0,423.1 479.1,424.1 477.3,426.8 C475.4,429.5 474.4,433.7 473.3,437.4 C472.1,441.0 471.4,445.1 470.4,448.5 C469.5,451.9 468.5,454.8 467.5,457.9 C466.4,461.1 467.2,464.1 464.4,467.3 C461.5,470.5 454.5,473.5 450.1,477.2 C445.8,480.9 440.3,485.8 438.4,489.5 C436.5,493.2 438.2,496.2 438.7,499.3 C439.2,502.5 441.1,505.3 441.6,508.4 C442.0,511.6 441.0,515.0 441.4,518.2 C441.8,521.4 443.0,524.6 443.9,527.6 C444.9,530.7 446.5,533.5 447.2,536.6 C447.9,539.6 446.4,542.5 448.1,546.0 C449.8,549.5 455.7,553.9 457.2,557.7 C458.8,561.5 457.0,565.1 457.4,568.8 C457.9,572.6 459.0,576.2 459.8,580.0 C460.6,583.7 461.4,587.5 462.1,591.3 C462.8,595.1 462.6,599.3 464.0,602.7 C465.5,606.2 468.7,609.0 470.9,612.2 C473.0,615.3 475.5,617.7 477.1,621.7 C478.6,625.6 480.3,632.0 480.1,636.0 C479.9,639.9 477.0,642.1 475.9,645.4 C474.7,648.6 475.1,652.5 473.2,655.3 C471.3,658.1 467.3,659.7 464.6,662.1 C461.9,664.4 459.1,665.6 456.9,669.4 C454.8,673.2 453.7,680.5 451.7,684.9 C449.6,689.3 446.8,692.0 444.5,695.7 C442.2,699.4 439.1,705.1 438.0,707.0" fill="none" stroke="#b9b9b9" stroke-width="4.0" stroke-linejoin="round" stroke-linecap="round" />
<path d="M456.0,555.5 C453.8,556.0 446.8,557.1 442.6,558.2 C438.4,559.3 434.7,560.5 430.8,562.1 C426.9,563.6 422.8,565.7 419.5,567.4 C416.1,569.1 413.5,570.6 410.7,572.4 C407.9,574.3 405.5,576.7 402.6,578.4 C399.8,580.2 396.9,581.1 393.6,582.8 C390.3,584.6 386.5,587.2 382.7,588.7 C378.8,590.2 375.0,590.4 370.6,592.0 C366.1,593.7 358.4,597.4 356.0,598.5" fill="none" stroke="#b9b9b9" stroke-width="4.0" stroke-linejoin="round" stroke-linecap="round" />
<path d="M525.0,372.0 C526.9,372.9 532.5,375.8 536.4,377.1 C540.4,378.5 545.1,379.2 548.6,380.1 C552.2,381.1 554.8,381.6 557.7,382.6 C560.6,383.7 563.3,385.4 566.2,386.7 C569.1,387.9 571.7,388.7 575.0,390.1 C578.2,391.6 582.2,393.8 586.0,395.4 C589.7,397.0 593.0,397.5 597.5,399.5 C602.0,401.5 608.2,404.8 613.1,407.4 C618.1,410.1 622.5,412.7 627.2,415.2 C631.9,417.8 638.4,418.7 641.1,422.6 C643.9,426.5 641.5,433.6 643.7,438.7 C646.0,443.8 650.5,449.4 654.7,453.0 C659.0,456.7 665.3,458.5 669.2,460.6 C673.1,462.7 674.9,464.3 678.0,465.4 C681.1,466.6 684.9,466.0 687.9,467.6 C690.8,469.3 692.0,473.6 695.6,475.4 C699.3,477.1 705.8,475.9 710.0,478.0 C714.2,480.1 718.3,483.8 720.6,487.9 C723.0,492.1 721.0,499.0 724.1,502.7 C727.3,506.5 736.0,508.2 739.8,510.4 C743.6,512.7 744.3,514.7 746.8,516.4 C749.4,518.2 752.5,518.5 755.0,521.0 C757.5,523.4 758.9,528.2 761.6,531.2 C764.2,534.3 768.5,536.7 770.8,539.3 C773.2,542.0 774.1,544.5 775.6,547.1 C777.1,549.7 778.3,552.5 779.9,555.0 C781.6,557.6 783.4,559.3 785.5,562.2 C787.5,565.0 789.6,569.0 792.0,572.1 C794.5,575.3 798.7,579.5 800.0,581.0" fill="none" stroke="#b9b9b9" stroke-width="4.0" stroke-linejoin="round" stroke-linecap="round" />
<path d="M594.0,371.0 C594.9,372.3 597.4,376.2 599.2,378.7 C601.0,381.2 603.5,383.2 605.0,386.0 C606.4,388.9 606.7,392.7 607.9,395.8 C609.2,399.0 611.7,403.5 612.5,405.0" fill="none" stroke="#b9b9b9" stroke-width="4.0" stroke-linejoin="round" stroke-linecap="round" />
<path d="M700.0,170.0 C698.6,171.1 694.5,174.5 691.9,176.9 C689.3,179.3 686.8,182.0 684.3,184.4 C681.9,186.8 679.7,189.1 677.2,191.2 C674.7,193.4 672.4,194.3 669.4,197.4 C666.4,200.4 662.1,204.9 659.2,209.3 C656.3,213.8 653.2,221.6 652.0,224.0" fill="none" stroke="#b9b9b9" stroke-width="4.0" stroke-linejoin="round" stroke-linecap="round" />
<path d="M661,615 l4,6 l5,-2 l6,4 l8,-1 l6,-4 l4,-4" fill="none" stroke="#dcdcdc" stroke-width="2"/>
<path d="M385,361 l8,-6 l6,-2 l5,6 l-10,2z" fill="#e6e6e6"/></g>
<circle cx="229.5" cy="503" r="127.5" fill="#e8e8e8"/>
<path d="M315.7,503.0 L315.4,511.5 L314.5,518.5 L313.0,524.9 L311.0,530.9 L308.3,536.6 L305.2,541.9 L301.4,546.8 L297.1,551.3 L292.4,555.5 L287.1,559.3 L281.3,562.7 L275.1,565.7 L268.4,568.2 L261.3,570.3 L253.7,571.9 L245.6,573.1 L236.7,573.8 L226.0,574.0 L215.3,573.8 L206.4,573.1 L198.3,571.9 L190.7,570.3 L183.6,568.2 L176.9,565.7 L170.7,562.7 L164.9,559.3 L159.6,555.5 L154.9,551.3 L150.6,546.8 L146.8,541.9 L143.7,536.6 L141.0,530.9 L139.0,524.9 L137.5,518.5 L136.6,511.5 L136.3,503.0 L136.6,494.5 L137.5,487.5 L139.0,481.1 L141.0,475.1 L143.7,469.4 L146.8,464.1 L150.6,459.2 L154.9,454.7 L159.6,450.5 L164.9,446.7 L170.7,443.3 L176.9,440.3 L183.6,437.8 L190.7,435.7 L198.3,434.1 L206.4,432.9 L215.3,432.2 L226.0,432.0 L236.7,432.2 L245.6,432.9 L253.7,434.1 L261.3,435.7 L268.4,437.8 L275.1,440.3 L281.3,443.3 L287.1,446.7 L292.4,450.5 L297.1,454.7 L301.4,459.2 L305.2,464.1 L308.3,469.4 L311.0,475.1 L313.0,481.1 L314.5,487.5 L315.4,494.5Z" fill="#f9bcb9"/>
<path d="M290.5,503.0 L290.3,512.7 L289.8,518.2 L289.0,522.7 L287.8,526.5 L286.3,530.0 L284.5,533.1 L282.3,535.8 L279.8,538.3 L276.9,540.6 L273.6,542.6 L270.0,544.3 L266.0,545.8 L261.5,547.1 L256.5,548.2 L250.9,549.0 L244.5,549.5 L236.6,549.9 L222.5,550.0 L208.4,549.9 L200.5,549.5 L194.1,549.0 L188.5,548.2 L183.5,547.1 L179.0,545.8 L175.0,544.3 L171.4,542.6 L168.1,540.6 L165.2,538.3 L162.7,535.8 L160.5,533.1 L158.7,530.0 L157.2,526.5 L156.0,522.7 L155.2,518.2 L154.7,512.7 L154.5,503.0 L154.7,493.3 L155.2,487.8 L156.0,483.3 L157.2,479.5 L158.7,476.0 L160.5,472.9 L162.7,470.2 L165.2,467.7 L168.1,465.4 L171.4,463.4 L175.0,461.7 L179.0,460.2 L183.5,458.9 L188.5,457.8 L194.1,457.0 L200.5,456.5 L208.4,456.1 L222.5,456.0 L236.6,456.1 L244.5,456.5 L250.9,457.0 L256.5,457.8 L261.5,458.9 L266.0,460.2 L270.0,461.7 L273.6,463.4 L276.9,465.4 L279.8,467.7 L282.3,470.2 L284.5,472.9 L286.3,476.0 L287.8,479.5 L289.0,483.3 L289.8,487.8 L290.3,493.3Z" fill="#fa816b"/>
<!--MAPOVER-->
<path d="M225,520.3 Q217.5,509.5 212.3,500.2 A14.25,14.25 0 1 1 237.1,500.2 Q232.5,509.5 225,520.3 Z M224.7,487.5 a5.6,5.6 0 1 0 0.01,0 Z" fill="#ffdb10" fill-rule="evenodd"/>
<path d="M196.0,275.5 C198.3,275.8 205.2,276.5 210.0,277.5 C214.8,278.5 219.2,279.4 225.0,281.5 C230.8,283.6 238.8,286.7 245.0,290.0 C251.2,293.3 256.5,296.5 262.5,301.5 C268.5,306.5 275.2,313.8 281.0,320.0 C286.8,326.2 292.7,332.8 297.5,339.0 C302.3,345.2 306.7,351.5 310.0,357.5 C313.3,363.5 315.4,369.6 317.5,375.0 C319.6,380.4 321.1,385.2 322.5,390.0 C323.9,394.8 325.4,401.7 326.0,404.0" fill="none" stroke="#3b3b3b" stroke-width="3" stroke-linecap="round"/>
<line x1="225.0" y1="283.0" x2="201.0" y2="371.0" stroke="#3b3b3b" stroke-width="2.5"/>
<line x1="281.0" y1="321.0" x2="208.0" y2="392.0" stroke="#3b3b3b" stroke-width="2.5"/>
<line x1="317.0" y1="375.0" x2="217.0" y2="403.0" stroke="#3b3b3b" stroke-width="2.5"/>
<path d="M325.5,623.0 C325.0,625.8 323.8,634.8 322.5,640.0 C321.2,645.2 319.6,649.0 317.5,654.0 C315.4,659.0 313.3,664.0 310.0,670.0 C306.7,676.0 302.1,683.8 297.5,690.0 C292.9,696.2 287.9,702.1 282.5,707.5 C277.1,712.9 271.2,717.9 265.0,722.5 C258.8,727.1 251.5,731.6 245.0,735.0 C238.5,738.4 231.8,740.8 226.0,743.0 C220.2,745.2 214.8,747.0 210.0,748.5 C205.2,750.0 199.2,751.4 197.0,752.0" fill="none" stroke="#3b3b3b" stroke-width="3" stroke-linecap="round"/>
<line x1="226.0" y1="626.5" x2="318.0" y2="652.5" stroke="#3b3b3b" stroke-width="2.5"/>
<line x1="210.0" y1="638.0" x2="282.5" y2="707.5" stroke="#3b3b3b" stroke-width="2.5"/>
<line x1="197.5" y1="648.0" x2="225.5" y2="743.0" stroke="#3b3b3b" stroke-width="2.5"/>
<path d="M25.2,474 L25.2,553" stroke="#2a2a2a" stroke-width="1.8" fill="none"/><path d="M28.8,478 L28.8,549" stroke="#8c8c8c" stroke-width="1.6" fill="none"/>
<path d="M146.2,470 L146.2,556" stroke="#2c2c2c" stroke-width="2" fill="none"/><path d="M149.8,466 L149.8,558" stroke="#444" stroke-width="2.2" fill="none"/>
<path d="M-6.0,388.0 C-4.7,381.8 -2.0,391.8 0.0,395.0 C2.0,398.2 4.2,403.0 6.0,407.0 C7.8,411.0 8.0,414.8 10.5,419.0 C13.0,423.2 16.5,428.0 21.0,432.5 C25.5,437.0 31.0,441.5 37.5,446.0 C44.0,450.5 53.2,456.2 60.0,459.5 C66.8,462.8 72.0,464.3 78.0,465.5 C84.0,466.7 90.2,467.2 96.0,466.5 C101.8,465.8 105.2,464.2 112.5,461.0 C119.8,457.8 132.1,452.7 140.0,447.5 C147.9,442.3 154.6,436.2 160.0,430.0 C165.4,423.8 169.7,415.3 172.5,410.0 C175.3,404.7 175.2,401.2 177.0,398.0 C178.8,394.8 179.8,392.0 183.0,391.0 C186.2,390.0 192.2,390.2 196.0,392.0 C199.8,393.8 204.7,397.7 206.0,402.0 C207.3,406.3 205.4,413.8 204.0,418.0 C202.6,422.2 199.8,424.4 197.5,427.0 C195.2,429.6 192.9,431.8 190.0,433.5 C187.1,435.2 183.3,435.9 180.0,437.0 C176.7,438.1 173.3,437.5 170.0,440.0 C166.7,442.5 163.6,446.8 160.0,452.0 C156.4,457.2 152.0,465.1 148.5,471.0 C145.0,476.9 141.0,482.2 138.8,487.4 C136.6,492.6 136.2,497.4 135.5,502.0 C134.8,506.6 134.4,510.7 134.7,515.0 C135.0,519.3 135.7,523.7 137.2,528.0 C138.7,532.3 141.8,537.2 143.7,541.0 C145.6,544.8 146.9,548.2 148.5,551.0 C150.1,553.8 151.1,554.0 153.5,557.5 C155.9,561.0 159.4,566.2 163.0,572.0 C166.6,577.8 169.3,587.3 175.0,592.0 C180.7,596.7 191.2,598.0 197.0,600.0 C202.8,602.0 207.5,601.3 210.0,604.0 C212.5,606.7 213.7,612.3 212.0,616.0 C210.3,619.7 204.5,623.3 200.0,626.0 C195.5,628.7 189.7,631.8 185.0,632.0 C180.3,632.2 175.2,629.3 172.0,627.0 C168.8,624.7 168.5,622.2 166.0,618.0 C163.5,613.8 160.8,606.8 157.0,602.0 C153.2,597.2 147.2,592.9 143.0,589.0 C138.8,585.1 135.0,581.2 132.0,578.6 C129.0,576.0 128.5,575.4 125.0,573.4 C121.5,571.4 115.7,568.1 111.0,566.4 C106.3,564.6 101.7,563.6 97.0,562.9 C92.3,562.2 87.7,561.7 83.0,562.0 C78.3,562.3 73.7,563.3 69.0,564.6 C64.3,565.9 59.7,567.7 55.0,569.9 C50.3,572.1 44.3,575.4 41.0,577.8 C37.7,580.2 36.8,582.3 35.0,584.5 C33.2,586.7 31.5,588.9 30.0,591.0 C28.5,593.1 28.0,594.4 26.0,597.0 C24.0,599.6 20.6,602.8 18.0,606.5 C15.4,610.2 12.7,615.2 10.5,619.0 C8.3,622.8 7.8,626.0 5.0,629.0 C2.2,632.0 -3.8,641.8 -6.0,637.0 C-8.2,632.2 -9.0,608.3 -8.0,600.0 C-7.0,591.7 -3.0,591.2 0.0,587.0 C3.0,582.8 7.1,579.1 10.0,575.0 C12.9,570.9 15.0,566.2 17.5,562.5 C20.0,558.8 21.9,557.5 25.0,552.5 C28.1,547.5 33.5,538.8 36.0,532.5 C38.5,526.2 39.6,520.4 40.0,515.0 C40.4,509.6 39.3,504.2 38.5,500.0 C37.7,495.8 36.8,493.8 35.0,490.0 C33.2,486.2 30.6,481.8 28.0,477.5 C25.4,473.2 22.7,468.2 19.5,464.0 C16.3,459.8 12.2,456.0 9.0,452.0 C5.8,448.0 2.8,443.3 0.0,440.0 C-2.8,436.7 -7.0,440.7 -8.0,432.0 C-9.0,423.3 -7.3,394.2 -6.0,388.0Z" fill="#383838"/>
<g clip-path="url(#d1clip)">
<rect x="-10" y="380" width="230" height="270" fill="#484848"/>
<circle cx="86" cy="518" r="46" fill="url(#plate)"/>
<path d="M85,518 L28,569 L28,600 L152,600 L152,566 Z" fill="url(#fB)" filter="url(#b2)"/>
<path d="M156,458 Q128,488 117,517 Q124,546 154,566 L175,560 L175,455 Z" fill="#383838" filter="url(#b1)"/>
<path d="M150,464 Q126,490 116.5,517 Q122,544 150,563" fill="none" stroke="#7a7a7a" stroke-width="1.3" filter="url(#b1)"/>
<path d="M16,462 Q36,486 44.5,512 Q42,538 24,560" fill="none" stroke="#6a6a6a" stroke-width="6" filter="url(#b2)"/>
<path d="M14.0,436.0 C16.7,439.2 24.0,448.7 30.0,455.0 C36.0,461.3 43.7,468.5 50.0,474.0 C56.3,479.5 62.2,485.1 68.0,488.0 C73.8,490.9 79.3,491.5 85.0,491.5 C90.7,491.5 96.2,490.8 102.0,488.0 C107.8,485.2 113.7,480.0 120.0,475.0 C126.3,470.0 133.3,464.2 140.0,458.0 C146.7,451.8 156.7,441.3 160.0,438.0" fill="none" stroke="#272727" stroke-width="10" filter="url(#b2)"/>
<path d="M37.5,452.0 C41.2,454.3 53.2,462.6 60.0,466.0 C66.8,469.4 72.0,471.2 78.0,472.5 C84.0,473.8 90.2,474.2 96.0,473.5 C101.8,472.8 105.2,471.2 112.5,468.0 C119.8,464.8 135.4,456.3 140.0,454.0" fill="none" stroke="#585858" stroke-width="5" filter="url(#b1)"/>
<g filter="url(#b2)" fill="none" stroke-linecap="round">
<path d="M0,414 Q8,428 20,440" stroke="#5a5a5a" stroke-width="8"/>
<path d="M180,414 Q172,430 158,444" stroke="#5a5a5a" stroke-width="8"/>
<path d="M0,612 Q10,596 24,578" stroke="#2c2c2c" stroke-width="10"/>
<path d="M178,602 Q160,592 148,574" stroke="#2c2c2c" stroke-width="10"/>
<path d="M2,610 Q12,594 26,577" stroke="#585858" stroke-width="2.5"/>
<path d="M172,598 Q158,588 146,572" stroke="#585858" stroke-width="2.5"/>
</g>
<path d="M56,542 L30,567 M114.5,537.5 L149.5,564" fill="none" stroke="#8a8a8a" stroke-width="1.2" filter="url(#b1)"/>
<path d="M0.0,396.0 C1.8,400.0 7.0,413.8 10.5,420.0 C14.0,426.2 16.5,429.0 21.0,433.5 C25.5,438.0 31.0,442.5 37.5,447.0 C44.0,451.5 53.2,457.2 60.0,460.5 C66.8,463.8 72.0,465.3 78.0,466.5 C84.0,467.7 90.2,468.2 96.0,467.5 C101.8,466.8 105.2,465.2 112.5,462.0 C119.8,458.8 132.1,453.7 140.0,448.5 C147.9,443.3 154.6,437.2 160.0,431.0 C165.4,424.8 170.4,414.3 172.5,411.0" fill="none" stroke="#1a1a1a" stroke-width="3.5" filter="url(#b1)"/>
<path d="M132.0,578.6 C130.8,577.7 128.5,575.4 125.0,573.4 C121.5,571.4 115.7,568.1 111.0,566.4 C106.3,564.6 101.7,563.6 97.0,562.9 C92.3,562.2 87.7,561.7 83.0,562.0 C78.3,562.3 73.7,563.3 69.0,564.6 C64.3,565.9 59.7,567.7 55.0,569.9 C50.3,572.1 43.3,576.5 41.0,577.8" fill="none" stroke="#303030" stroke-width="4" filter="url(#b1)"/>
</g>
<circle cx="181" cy="420" r="8" fill="#1d1d1d"/><circle cx="181" cy="420" r="4" fill="#2f2f2f"/>
<circle cx="180.5" cy="608.5" r="8.5" fill="#1b1b1b"/><circle cx="180.5" cy="608.5" r="5.2" fill="#777"/><circle cx="180" cy="608" r="3.2" fill="#8a8a8a"/>
<circle cx="0" cy="421" r="5" fill="#161616"/>
<g clip-path="url(#d1clip)">
<path d="M153.3,556.5 C153.1,558.2 153.1,564.0 151.9,567.0 C150.7,570.0 148.7,572.2 145.9,574.5 C143.1,576.8 137.8,579.5 135.0,580.9 C132.2,582.3 130.0,582.6 129.0,583.0" fill="none" stroke="#f4f4f4" stroke-width="6.8"/>
<path d="M161.8,566.5 C161.7,567.8 161.8,571.9 160.9,574.5 C160.0,577.1 158.5,579.8 156.4,582.0 C154.3,584.2 151.4,586.8 148.5,588.0 C145.6,589.2 140.6,589.2 139.0,589.5" fill="none" stroke="#f4f4f4" stroke-width="6.2"/>
<path d="M19,556.9 Q28,571 41.5,581.3" fill="none" stroke="#f4f4f4" stroke-width="7.2"/>
<path d="M12.2,568.5 Q21.6,580.7 34.5,589.6" fill="none" stroke="#f4f4f4" stroke-width="7.6"/>
</g>
<ellipse cx="207" cy="396" rx="10" ry="11" fill="#262626"/>
<ellipse cx="207" cy="633" rx="10" ry="10" fill="#262626"/>
<path d="M126.3,325.0 C125.5,321.5 129.1,320.1 131.2,318.8 C133.3,317.5 136.5,317.0 138.8,317.2 C141.1,317.4 141.9,317.4 145.0,320.0 C148.1,322.6 153.3,328.1 157.5,332.5 C161.7,336.9 165.8,342.0 170.0,346.2 C174.2,350.4 178.8,354.4 182.5,357.5 C186.2,360.6 189.6,362.7 192.5,365.0 C195.4,367.3 198.5,369.0 200.0,371.5 C201.5,374.0 200.8,377.2 201.5,380.0 C202.2,382.8 202.9,385.0 204.0,388.0 C205.1,391.0 207.7,395.0 208.0,398.0 C208.3,401.0 207.7,404.3 206.0,406.0 C204.3,407.7 201.1,409.0 198.0,408.0 C194.9,407.0 191.1,403.2 187.5,400.0 C183.9,396.8 180.1,393.0 176.2,388.8 C172.2,384.6 168.0,379.8 163.8,375.0 C159.6,370.2 155.8,365.8 151.2,360.0 C146.6,354.2 140.3,345.8 136.2,340.0 C132.0,334.2 127.1,328.5 126.3,325.0Z" fill="url(#g1u)"/>
<path d="M196.0,398.0 C197.9,396.4 201.2,398.2 204.0,399.0 C206.8,399.8 209.6,400.5 212.5,402.5 C215.4,404.5 217.9,407.4 221.2,411.2 C224.5,414.9 228.5,420.2 232.5,425.0 C236.5,429.8 240.8,435.0 245.0,440.0 C249.2,445.0 253.8,450.4 257.5,455.0 C261.2,459.6 264.9,464.2 267.5,467.5 C270.1,470.8 272.1,473.2 273.0,475.0 C273.9,476.8 273.5,477.2 273.0,478.5 C272.5,479.8 271.5,481.6 270.0,483.0 C268.5,484.4 265.9,486.5 263.8,486.9 C261.7,487.3 259.8,487.2 257.5,485.6 C255.2,484.0 252.9,480.7 250.0,477.5 C247.1,474.3 243.8,470.1 240.0,466.2 C236.2,462.2 231.7,457.8 227.5,453.8 C223.3,449.9 218.9,445.6 215.0,442.5 C211.1,439.4 206.6,437.1 203.8,435.0 C201.0,432.9 199.5,432.7 198.0,430.0 C196.5,427.3 195.9,422.3 195.0,418.8 C194.1,415.3 192.3,412.3 192.5,408.8 C192.7,405.3 194.1,399.6 196.0,398.0Z" fill="url(#g1l)"/>
<path d="M263.8,550.6 C266.7,548.0 267.7,547.8 270.0,548.0 C272.3,548.2 275.9,550.2 277.5,552.0 C279.1,553.8 280.4,555.0 279.4,558.8 C278.3,562.6 274.4,569.4 271.2,575.0 C268.0,580.6 263.9,587.1 260.0,592.5 C256.1,597.9 251.2,603.3 247.5,607.5 C243.8,611.7 240.8,614.6 237.5,617.5 C234.2,620.4 230.8,622.8 227.5,625.0 C224.2,627.2 221.1,629.2 217.5,631.0 C213.9,632.8 209.6,635.8 206.0,636.0 C202.4,636.2 198.2,634.3 196.0,632.0 C193.8,629.7 192.3,625.2 193.0,622.0 C193.7,618.8 197.6,615.3 200.0,612.5 C202.4,609.7 205.0,607.3 207.5,605.0 C210.0,602.7 211.7,601.7 215.0,598.8 C218.3,595.9 223.3,591.3 227.5,587.5 C231.7,583.7 235.8,580.2 240.0,576.2 C244.2,572.2 248.5,568.1 252.5,563.8 C256.5,559.5 260.9,553.2 263.8,550.6Z" fill="url(#g3u)"/>
<path d="M187.5,623.0 C192.5,621.7 193.2,619.5 196.0,620.0 C198.8,620.5 202.5,623.3 204.0,626.0 C205.5,628.7 205.5,633.7 205.0,636.0 C204.5,638.3 202.7,638.5 201.2,640.0 C199.7,641.5 198.9,642.7 196.2,645.0 C193.5,647.3 188.9,650.5 185.0,653.8 C181.1,657.1 176.7,661.0 172.5,665.0 C168.3,669.0 164.2,673.1 160.0,677.5 C155.8,681.9 151.5,687.0 147.5,691.2 C143.5,695.5 139.1,700.6 136.2,703.0 C133.3,705.4 132.3,705.6 130.0,705.6 C127.7,705.6 124.4,704.6 122.5,703.0 C120.6,701.4 119.2,698.4 118.8,696.2 C118.4,694.0 118.8,692.3 120.0,690.0 C121.2,687.7 123.3,686.0 126.2,682.5 C129.1,679.0 133.5,674.0 137.5,668.8 C141.5,663.6 146.2,656.4 150.0,651.2 C153.8,646.0 157.3,641.4 160.0,637.5 C162.7,633.6 161.6,630.4 166.2,628.0 C170.8,625.6 182.5,624.3 187.5,623.0Z" fill="url(#g3l)"/>
<path d="M33.8,322.5 C36.9,320.4 38.8,320.0 41.2,320.0 C43.6,320.0 46.3,321.0 48.0,322.5 C49.7,324.0 52.1,325.5 51.2,328.8 C50.3,332.1 45.8,337.9 42.5,342.5 C39.2,347.1 35.1,351.6 31.2,356.2 C27.2,360.8 22.8,365.8 18.8,370.0 C14.9,374.2 11.3,377.5 7.5,381.2 C3.7,384.9 -1.4,393.9 -4.0,392.0 C-6.6,390.1 -8.0,376.3 -8.0,370.0 C-8.0,363.7 -7.2,358.6 -4.0,354.0 C-0.8,349.4 6.8,346.1 11.2,342.5 C15.6,338.9 18.7,335.8 22.5,332.5 C26.3,329.2 30.7,324.6 33.8,322.5Z" fill="url(#g2)"/>
<path d="M-6.0,625.0 C-4.7,619.6 -2.2,626.8 0.0,627.5 C2.2,628.2 5.0,627.5 7.5,629.4 C10.0,631.3 11.6,634.1 15.0,638.8 C18.4,643.5 23.3,651.3 28.0,657.5 C32.7,663.7 38.8,670.9 43.0,676.2 C47.2,681.5 51.4,686.3 53.4,689.4 C55.4,692.5 55.8,692.8 55.3,695.0 C54.8,697.2 52.8,700.9 50.6,702.5 C48.4,704.1 45.4,706.0 42.0,704.4 C38.6,702.8 34.5,697.1 30.0,693.0 C25.5,688.9 20.0,684.0 15.0,680.0 C10.0,676.0 3.8,672.1 0.0,668.8 C-3.8,665.5 -7.0,667.3 -8.0,660.0 C-9.0,652.7 -7.3,630.4 -6.0,625.0Z" fill="url(#g4)"/>
<circle cx="200.5" cy="402.5" r="3" fill="#3a3a3a" stroke="#777" stroke-width="0.9"/>
<circle cx="199.4" cy="626.5" r="3" fill="#3a3a3a" stroke="#777" stroke-width="0.9"/>
<text x="62" y="521" font-family="'Liberation Serif',serif" font-style="italic" font-size="15" fill="#f4f4f4" textLength="46" lengthAdjust="spacingAndGlyphs">Drone</text>
<path d="M588.0,162.5 C586.7,163.4 582.7,165.6 580.0,168.0 C577.3,170.4 574.7,173.3 572.0,177.0 C569.3,180.7 566.3,185.2 564.0,190.0 C561.7,194.8 559.6,200.3 558.0,206.0 C556.4,211.7 555.2,218.3 554.5,224.0 C553.8,229.7 553.6,234.7 554.0,240.0 C554.4,245.3 555.7,251.3 557.0,256.0 C558.3,260.7 561.2,266.0 562.0,268.0" fill="none" stroke="#2e2e2e" stroke-width="2.3" stroke-linecap="round"/>
<line x1="575.0" y1="176.0" x2="619.0" y2="213.5" stroke="#2e2e2e" stroke-width="1.8"/>
<line x1="556.5" y1="212.0" x2="618.0" y2="225.5" stroke="#2e2e2e" stroke-width="1.8"/>
<line x1="556.5" y1="252.0" x2="618.0" y2="236.0" stroke="#2e2e2e" stroke-width="1.8"/>
<path d="M701.0,94.0 C703.8,92.8 711.8,88.3 717.5,86.5 C723.2,84.7 728.8,83.2 735.0,83.0 C741.2,82.8 748.3,83.4 755.0,85.0 C761.7,86.6 769.2,89.8 775.0,92.5 C780.8,95.2 785.5,98.1 790.0,101.0 C794.5,103.9 800.0,108.5 802.0,110.0" fill="none" stroke="#2e2e2e" stroke-width="2.3" stroke-linecap="round"/>
<line x1="720.0" y1="87.0" x2="734.0" y2="140.0" stroke="#2e2e2e" stroke-width="1.8"/>
<line x1="758.5" y1="86.0" x2="746.0" y2="147.0" stroke="#2e2e2e" stroke-width="1.8"/>
<line x1="794.0" y1="106.5" x2="754.0" y2="152.0" stroke="#2e2e2e" stroke-width="1.8"/>
<path d="M631.0,381.0 C632.2,382.5 635.3,387.2 638.0,390.0 C640.7,392.8 643.7,395.1 647.0,397.5 C650.3,399.9 654.2,402.4 658.0,404.5 C661.8,406.6 665.8,408.4 670.0,410.0 C674.2,411.6 678.7,413.0 683.0,414.0 C687.3,415.0 691.5,415.8 696.0,416.0 C700.5,416.2 705.7,415.9 710.0,415.5 C714.3,415.1 717.2,414.8 722.0,413.5 C726.8,412.2 736.2,408.9 739.0,408.0" fill="none" stroke="#2e2e2e" stroke-width="2.3" stroke-linecap="round"/>
<line x1="690.0" y1="350.0" x2="649.0" y2="393.5" stroke="#2e2e2e" stroke-width="1.8"/>
<line x1="695.5" y1="352.0" x2="683.0" y2="413.0" stroke="#2e2e2e" stroke-width="1.8"/>
<line x1="704.0" y1="352.0" x2="722.0" y2="413.0" stroke="#2e2e2e" stroke-width="1.8"/>
<path d="M739.5,210 L762.5,247.5 M667,244 Q680,254 686,266 Q692,279 699,294" stroke="#303030" stroke-width="1.8" fill="none"/>
<path d="M632.0,222.0 C633.0,219.5 634.7,216.8 637.0,217.0 C639.3,217.2 642.2,221.2 646.0,223.0 C649.8,224.8 654.7,226.8 660.0,228.0 C665.3,229.2 672.2,230.1 678.0,230.5 C683.8,230.9 689.2,231.2 694.5,230.5 C699.8,229.8 705.2,228.5 709.5,226.0 C713.8,223.5 717.2,219.5 720.0,215.5 C722.8,211.5 724.5,206.8 726.0,202.0 C727.5,197.2 728.3,191.4 729.0,186.5 C729.7,181.6 730.2,176.6 730.0,172.5 C729.8,168.4 727.0,164.8 727.5,162.0 C728.0,159.2 730.2,156.8 733.0,156.0 C735.8,155.2 741.2,155.7 744.0,157.0 C746.8,158.3 748.7,161.3 749.5,164.0 C750.3,166.7 750.2,169.5 749.0,173.0 C747.8,176.5 744.1,181.0 742.5,185.0 C740.9,189.0 740.2,192.8 739.5,197.0 C738.8,201.2 738.5,206.2 738.5,210.0 C738.5,213.8 738.8,216.8 739.5,220.0 C740.2,223.2 740.2,225.2 742.5,229.0 C744.8,232.8 749.2,238.8 753.0,242.5 C756.8,246.2 760.7,248.9 765.0,251.5 C769.3,254.1 774.5,256.8 779.0,258.0 C783.5,259.2 788.0,258.7 792.0,258.5 C796.0,258.3 801.2,253.8 803.0,257.0 C804.8,260.2 804.7,275.0 803.0,278.0 C801.3,281.0 796.7,276.1 793.0,275.0 C789.3,273.9 785.7,272.2 781.0,271.5 C776.3,270.8 770.2,271.3 765.0,271.0 C759.8,270.7 755.0,269.2 750.0,269.5 C745.0,269.8 739.5,270.5 735.0,272.5 C730.5,274.5 725.8,278.0 723.0,281.5 C720.2,285.0 719.4,290.4 718.5,293.5 C717.6,296.6 718.2,297.1 717.5,300.0 C716.8,302.9 715.1,307.2 714.0,311.0 C712.9,314.8 711.3,318.8 711.0,323.0 C710.7,327.2 713.8,332.8 712.0,336.0 C710.2,339.2 704.0,342.3 700.0,342.0 C696.0,341.7 688.5,337.8 688.0,334.0 C687.5,330.2 694.8,323.4 697.0,319.5 C699.2,315.6 700.4,314.4 701.0,310.5 C701.6,306.6 701.0,301.1 700.5,296.0 C700.0,290.9 699.1,284.7 698.0,280.0 C696.9,275.3 695.7,271.5 694.0,268.0 C692.3,264.5 690.3,261.7 688.0,259.0 C685.7,256.3 683.2,254.2 680.0,252.0 C676.8,249.8 673.7,247.4 669.0,245.5 C664.3,243.6 657.3,241.4 652.0,240.5 C646.7,239.6 640.5,241.4 637.0,240.0 C633.5,238.6 631.8,235.0 631.0,232.0 C630.2,229.0 631.0,224.5 632.0,222.0Z" fill="#3c3c3c"/>
<g clip-path="url(#d2clip)">
<g filter="url(#b1)">
<path d="M720,255 L630,228 L640,150 L745,150 L738,171 Z" fill="url(#hT)"/>
<path d="M720,255 L805,268 L805,350 L690,350 L700,330 Z" fill="url(#hB)"/>
<path d="M720,255 L630,228 L620,300 L700,330 Z" fill="#444"/>
<path d="M720,255 L738,171 L800,180 L805,268 Z" fill="#484848"/>
</g>
<g filter="url(#b1)" fill="none" stroke-linecap="round">
<path d="M643,232 Q675,240 700,249" stroke="#585858" stroke-width="4"/>
<path d="M737,176 Q735,205 727,236" stroke="#585858" stroke-width="4"/>
<path d="M701,325 Q705,310 709,300" stroke="#2a2a2a" stroke-width="6"/>
<path d="M782,264 Q790,266 798,267" stroke="#2a2a2a" stroke-width="6"/>
<path d="M720,255 L700,249 M720,255 L727,236 M720,255 L712,285 M720,255 L750,260" stroke="#6a6a6a" stroke-width="1"/>
</g>
<path d="M646.0,224.0 C648.3,224.8 654.7,227.8 660.0,229.0 C665.3,230.2 672.2,231.1 678.0,231.5 C683.8,231.9 689.2,232.2 694.5,231.5 C699.8,230.8 705.2,229.5 709.5,227.0 C713.8,224.5 717.2,220.5 720.0,216.5 C722.8,212.5 724.5,207.8 726.0,203.0 C727.5,198.2 728.3,192.4 729.0,187.5 C729.7,182.6 729.8,175.8 730.0,173.5" fill="none" stroke="#1a1a1a" stroke-width="2.6" filter="url(#b1)"/>
</g>
<circle cx="641" cy="231" r="4.6" fill="#1c1c1c"/><circle cx="641" cy="231" r="2.4" fill="#666"/>
<circle cx="738" cy="171.5" r="4.8" fill="#1c1c1c"/><circle cx="738" cy="171.5" r="2.4" fill="#444"/>
<circle cx="700.5" cy="329.5" r="4.6" fill="#1c1c1c"/><circle cx="700.5" cy="329.5" r="2.6" fill="#8a8a8a"/>
<circle cx="797" cy="267" r="4.2" fill="#1c1c1c"/>
<g clip-path="url(#d2clip)">
<path d="M698.5,294.5 Q709.0,303.5 719.5,298.0" fill="none" stroke="#f4f4f4" stroke-width="4.6"/>
<path d="M698.5,301.5 Q708.5,310.5 718.5,305.0" fill="none" stroke="#f4f4f4" stroke-width="4.4"/>
<path d="M769.5,252.0 Q770.5,263.0 763.5,272.0" fill="none" stroke="#f4f4f4" stroke-width="5.0"/>
<path d="M778.0,254.5 Q779.5,265.0 773.0,273.0" fill="none" stroke="#f4f4f4" stroke-width="4.6"/>
</g>
<path d="M632.0,167.0 C633.5,164.3 635.2,163.9 637.0,164.0 C638.8,164.1 642.2,165.2 643.0,167.5 C643.8,169.8 642.5,174.2 642.0,178.0 C641.5,181.8 640.8,185.8 640.0,190.0 C639.2,194.2 637.9,198.8 637.0,203.0 C636.1,207.2 635.2,211.7 634.5,215.0 C633.8,218.3 633.2,220.3 633.0,223.0 C632.8,225.7 634.7,229.4 633.5,231.0 C632.3,232.6 628.6,232.7 626.0,232.5 C623.4,232.3 619.2,231.8 618.0,230.0 C616.8,228.2 618.5,224.7 618.5,222.0 C618.5,219.3 617.8,216.7 618.0,214.0 C618.2,211.3 619.0,209.5 620.0,206.0 C621.0,202.5 622.7,197.3 624.0,193.0 C625.3,188.7 626.7,184.3 628.0,180.0 C629.3,175.7 630.5,169.7 632.0,167.0Z" fill="url(#k1u)"/>
<path d="M618.0,225.0 C619.5,223.5 623.2,223.8 626.0,224.0 C628.8,224.2 633.4,224.2 635.0,226.0 C636.6,227.8 635.5,231.6 635.4,234.9 C635.3,238.2 635.6,240.3 634.5,245.7 C633.4,251.1 631.0,260.8 629.0,267.5 C627.0,274.2 624.2,281.9 622.7,285.7 C621.2,289.5 621.7,289.1 620.0,290.2 C618.3,291.2 614.5,292.1 612.7,292.0 C610.9,291.9 609.5,291.6 609.0,289.3 C608.5,287.0 609.2,283.8 610.0,278.4 C610.8,272.9 612.4,264.2 613.6,256.6 C614.8,249.0 616.5,238.3 617.2,233.0 C617.9,227.7 616.5,226.5 618.0,225.0Z" fill="url(#k1l)"/>
<path d="M681.5,136.5 C681.8,135.0 682.2,133.5 684.5,133.0 C686.8,132.5 690.8,133.1 695.0,133.8 C699.2,134.4 705.0,135.8 710.0,136.8 C715.0,137.8 721.2,138.8 725.0,139.8 C728.8,140.8 730.0,141.5 732.5,142.8 C735.0,144.0 737.6,146.1 740.0,147.5 C742.4,148.9 746.0,148.9 747.0,151.0 C748.0,153.1 747.4,158.6 746.0,160.0 C744.6,161.4 742.0,159.9 738.5,159.2 C735.0,158.6 729.8,157.4 725.0,156.2 C720.2,155.1 715.0,154.1 710.0,152.5 C705.0,150.9 699.5,148.2 695.0,146.5 C690.5,144.8 685.2,143.7 683.0,142.0 C680.8,140.3 681.2,138.0 681.5,136.5Z" fill="url(#k2u)"/>
<path d="M741.0,149.0 C742.5,147.9 745.2,150.2 749.0,151.5 C752.8,152.8 758.5,154.8 764.0,157.0 C769.5,159.2 775.3,161.8 782.0,164.5 C788.7,167.2 800.3,169.9 804.0,173.5 C807.7,177.1 808.2,185.2 804.0,186.0 C799.8,186.8 786.2,180.3 779.0,178.0 C771.8,175.7 766.5,174.2 761.0,172.0 C755.5,169.8 749.5,166.8 746.0,164.5 C742.5,162.2 740.8,160.6 740.0,158.0 C739.2,155.4 739.5,150.1 741.0,149.0Z" fill="url(#k2l)"/>
<path d="M633.2,332.0 C633.5,330.5 632.7,329.0 635.9,329.0 C639.1,329.0 646.5,330.7 652.2,331.8 C657.9,332.8 664.9,334.4 670.3,335.4 C675.7,336.4 681.0,337.2 684.8,338.0 C688.6,338.8 690.5,339.2 693.0,340.0 C695.5,340.8 699.0,341.3 700.0,343.0 C701.0,344.7 699.7,348.8 699.0,350.0 C698.3,351.2 697.5,349.4 695.7,350.0 C693.9,350.6 691.1,353.1 688.4,353.5 C685.7,353.9 683.9,353.7 679.4,352.6 C674.9,351.6 667.3,349.0 661.2,347.2 C655.2,345.4 647.5,343.2 643.0,341.7 C638.5,340.2 635.6,339.6 634.0,338.0 C632.4,336.4 632.9,333.5 633.2,332.0Z" fill="url(#k3u)"/>
<path d="M694.0,342.0 C695.3,340.2 699.7,340.9 703.0,340.0 C706.3,339.1 709.9,336.2 713.8,336.3 C717.7,336.4 721.7,339.0 726.5,340.8 C731.3,342.6 737.5,345.1 742.8,347.2 C748.1,349.3 755.2,351.9 758.2,353.5 C761.2,355.1 760.5,355.6 760.6,357.0 C760.7,358.4 760.0,360.6 759.0,361.7 C758.0,362.8 758.8,364.1 754.6,363.5 C750.4,362.9 740.2,359.7 733.8,358.0 C727.2,356.3 721.1,354.6 715.6,353.5 C710.1,352.4 704.4,352.1 701.0,351.7 C697.6,351.3 696.2,352.6 695.0,351.0 C693.8,349.4 692.7,343.8 694.0,342.0Z" fill="url(#k3l)"/>
<path d="M798.5,283.0 C799.6,280.6 802.2,274.0 803.0,283.0 C803.8,292.0 804.0,328.1 803.0,337.0 C802.0,345.9 798.6,337.1 797.0,336.5 C795.4,335.9 794.0,335.0 793.2,333.5 C792.5,332.0 792.2,331.0 792.5,327.5 C792.8,324.0 794.1,317.5 794.8,312.5 C795.4,307.5 795.6,302.4 796.2,297.5 C796.9,292.6 797.4,285.4 798.5,283.0Z" fill="#3c3c3c"/>
<circle cx="626.3" cy="227.8" r="2" fill="#2a2a2a" stroke="#707070" stroke-width="0.7"/>
<circle cx="744.5" cy="153.5" r="2" fill="#2a2a2a" stroke="#707070" stroke-width="0.7"/>
<circle cx="697" cy="344.8" r="2" fill="#2a2a2a" stroke="#707070" stroke-width="0.7"/>
<text transform="translate(708.5,259.5) rotate(-27)" font-family="'Liberation Serif',serif" font-style="italic" font-size="9.5" fill="#eee" textLength="25" lengthAdjust="spacingAndGlyphs">Drone</text>
<circle cx="592" cy="329.3" r="37.6" fill="#fff"/><path d="M572.5,342.5 L598.5,309.4 L600.6,326.3 L613.8,336.9 Z" fill="#f94a4a"/>
</svg>
<h1><span style="left:130px;letter-spacing:0.7px">One</span> <span style="left:197px;letter-spacing:-1px">key</span> <span style="left:255px;letter-spacing:1px">return</span></h1>
<div class="hr"></div>
<p><span style="left:130.5px;letter-spacing:0.8px">You</span> <span style="left:165px;letter-spacing:-0.8px">can</span> <span style="left:194.5px;letter-spacing:0.6px">press</span> <span style="left:241.5px">the</span> <span style="left:269px;letter-spacing:0.5px">key(one</span> <span style="left:335.5px;letter-spacing:-0.9px">key</span> <span style="left:367px;letter-spacing:0.5px">return)</span> <span style="left:425px;letter-spacing:0.9px">to</span> <span style="left:445px;letter-spacing:0px">call</span> <span style="left:475px;letter-spacing:0.5px">the</span> <span style="left:504px;letter-spacing:0.5px">drone</span> <span style="left:554px;letter-spacing:0.4px">back.</span></p>
</body></html>
